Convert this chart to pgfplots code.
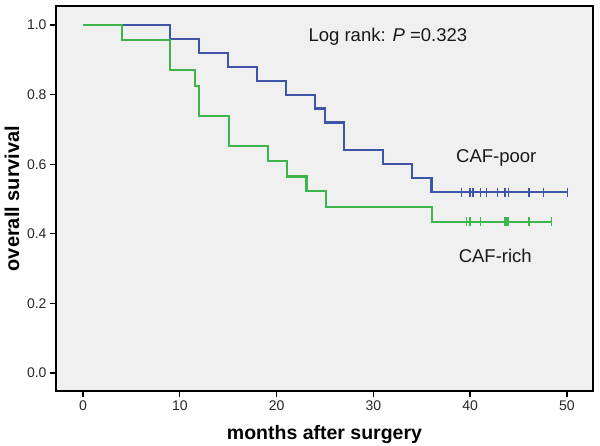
\documentclass[border=0pt]{standalone}
\usepackage{pgfplots}
\pgfplotsset{compat=1.18}
\usepackage{fontspec}
\setmainfont{Liberation Sans}
\definecolor{kmblue}{HTML}{3D56A8}
\definecolor{kmgreen}{HTML}{3DB54A}
\definecolor{plotbg}{HTML}{F0F0F0}
\begin{document}
\begin{tikzpicture}
\path[use as bounding box] (-56pt,-54pt) rectangle (544pt,391pt);
\begin{axis}[
  at={(0,0)}, anchor=south west,
  scale only axis,
  width=537pt, height=385pt,
  xmin=-2.8, xmax=52.7,
  ymin=-0.052, ymax=1.055,
  axis background/.style={fill=plotbg},
  axis line style={line width=1.8pt, black},
  xtick={0,10,20,30,40,50},
  ytick={0,0.2,0.4,0.6,0.8,1.0},
  tick align=outside,
  xtick pos=bottom, ytick pos=left,
  major tick length=6pt,
  tick style={line width=1.3pt, black},
  /pgf/number format/assume math mode=true,
  yticklabel style={/pgf/number format/.cd, fixed, fixed zerofill, precision=1},
  ticklabel style={font=\fontsize{14}{16}\selectfont, text=black!85},
  xlabel={months after surgery},
  ylabel={overall survival},
  xlabel style={font=\fontsize{19.5}{21}\selectfont\bfseries, at={([yshift=-43pt]axis description cs:0.5,0)}, anchor=center},
  ylabel style={font=\fontsize{20}{22}\selectfont\bfseries, at={([xshift=-44pt]axis description cs:0,0.5)}, anchor=center},
  clip=false,
]
% CAF-poor
\addplot[const plot, kmblue, line width=2.2pt] coordinates {
 (0,1.0) (9,0.96) (12,0.92) (15,0.88) (18,0.84) (21,0.80) (24,0.76)
 (25,0.72) (27,0.64) (31,0.60) (34,0.56) (36,0.52) (50.1,0.52)};
\addplot[only marks, mark=|, mark size=4.5pt, kmblue, mark options={line width=1.3pt}] coordinates {
 (39.1,0.52) (40.0,0.52) (40.3,0.52) (41.1,0.52) (41.7,0.52) (42.8,0.52)
 (43.6,0.52) (44.0,0.52) (46.1,0.52) (47.6,0.52) (50.1,0.52)};
% CAF-rich
\addplot[const plot, kmgreen, line width=2.2pt] coordinates {
 (0,1.0) (4,0.957) (9,0.870) (11.6,0.826) (12,0.739) (15.1,0.652)
 (19.1,0.609) (21.1,0.565) (23.1,0.522) (25.1,0.478) (36.1,0.435) (48.5,0.435)};
\addplot[only marks, mark=|, mark size=4.5pt, kmgreen, mark options={line width=1.3pt}] coordinates {
 (39.6,0.435) (40.0,0.435) (41.1,0.435) (43.6,0.435) (43.8,0.435)
 (44.0,0.435) (46.1,0.435) (48.4,0.435)};
\node[font=\fontsize{18.5}{20}\selectfont, text=black!90] at (axis cs:31.5,0.968) {Log rank: \textit{P} =0.323};
\node[font=\fontsize{18.5}{20}\selectfont, text=black!90] at (axis cs:42.7,0.618) {CAF-poor};
\node[font=\fontsize{18.5}{20}\selectfont, text=black!90] at (axis cs:42.6,0.336) {CAF-rich};
\end{axis}
\end{tikzpicture}
\end{document}
